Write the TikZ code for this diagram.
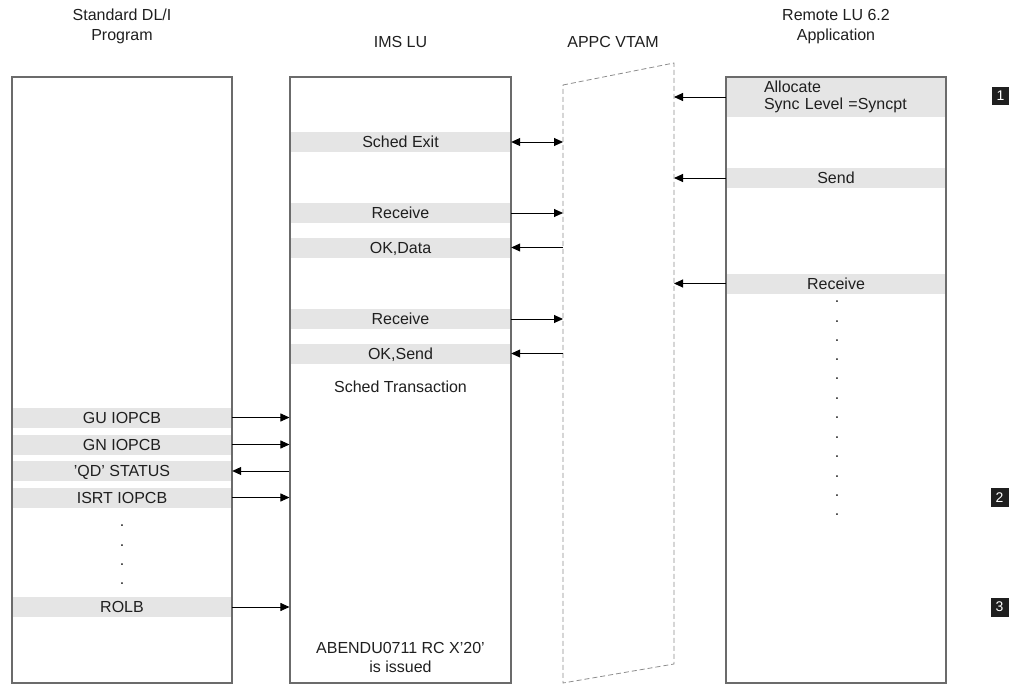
\documentclass[tikz,border=0pt]{standalone}
\usepackage{fontspec}
\setmainfont{Liberation Sans}
\usetikzlibrary{arrows.meta}
\begin{document}
\begin{tikzpicture}[x=1pt,y=-1pt,
  font=\fontsize{16}{19}\selectfont,
  text=black!88,
  box/.style={draw=black!58, line width=1.1pt, inner sep=0pt},
  band/.style={fill=black!10, inner sep=0pt, minimum height=20pt, text height=13pt, text depth=1.5pt},
  lbl/.style={inner sep=0pt, align=center},
  dotl/.style={inner sep=0pt, anchor=base, text height=2pt, text depth=0pt},
  arr/.style={line width=0.9pt, -{Triangle[length=9pt,width=8pt]}},
  darr/.style={line width=0.9pt, {Triangle[length=9pt,width=8pt]}-{Triangle[length=9pt,width=8pt]}},
  vtam/.style={draw=black!45, line width=0.8pt, dash pattern=on 5pt off 3pt},
  marker/.style={fill=black!88, text=white, minimum width=18pt, minimum height=19pt, inner sep=0pt, font=\fontsize{14}{14}\selectfont}
]
\useasboundingbox (0,0) rectangle (1021,685);

% titles
\node[lbl, font=\fontsize{16}{20}\selectfont] (t1) at (122,26.6) {Standard DL/I\\Program};
\node[lbl] (t2) at (400.5,42) {IMS LU};
\node[lbl] (t3) at (613,42) {APPC VTAM};
\node[lbl, font=\fontsize{16}{20}\selectfont] (t4) at (836,26.6) {Remote LU 6.2\\Application};

% bands, DL/I program
\node[band, minimum width=220pt] (gu) at (122,417.5) {GU IOPCB};
\node[band, minimum width=220pt] (gn) at (122,444.5) {GN IOPCB};
\node[band, minimum width=220pt] (qd) at (122,471) {'QD' STATUS};
\node[band, minimum width=220pt] (isrt) at (122,497.5) {ISRT IOPCB};
\node[band, minimum width=220pt] (rolb) at (122,607) {ROLB};
\node[dotl] (d1) at (122,526) {.};
\node[dotl] (d2) at (122,546) {.};
\node[dotl] (d3) at (122,565) {.};
\node[dotl] (d4) at (122,584) {.};

% bands, IMS LU
\node[band, minimum width=221pt] (sx) at (400.5,142) {Sched Exit};
\node[band, minimum width=221pt] (rc1) at (400.5,213) {Receive};
\node[band, minimum width=221pt] (okd) at (400.5,247.5) {OK,Data};
\node[band, minimum width=221pt] (rc2) at (400.5,319) {Receive};
\node[band, minimum width=221pt] (oks) at (400.5,353.5) {OK,Send};
\node[lbl] (st) at (400.5,386.5) {Sched Transaction};
\node[lbl] (ab) at (400.5,657) {ABENDU0711 RC X'20'\\is issued};

% bands, remote application
\node[band, minimum width=220pt, minimum height=40pt, text height=, text depth=, text width=144pt, inner xsep=38pt, align=left, font=\fontsize{16}{17}\selectfont] (al) at (836,97) {Allocate\\Sync Level =Syncpt};
\node[band, minimum width=220pt] (sd) at (836,178) {Send};
\node[band, minimum width=220pt] (rr) at (836,283.5) {Receive};
\foreach \i/\y in {1/301,2/321,3/340,4/359,5/378,6/398,7/417,8/437,9/456,10/476,11/495,12/514}{
  \node[dotl] (rd\i) at (837,\y+1) {.};
}

% boxes
\node[box, minimum width=220pt, minimum height=606pt] (dli) at (122,380) {};
\node[box, minimum width=221pt, minimum height=606pt] (ims) at (400.5,380) {};
\node[box, minimum width=220pt, minimum height=606pt] (rem) at (836,380) {};

% APPC VTAM
\coordinate (vtl) at (563,85);
\coordinate (vtr) at (674,63);
\coordinate (vbr) at (674,664);
\coordinate (vbl) at (563,683);
\draw[vtam] (vtl) -- (vtr) -- (vbr) -- (vbl) -- cycle;

% markers
\node[marker, minimum width=17pt, minimum height=18pt] (m1) at (1000.5,96) {1};
\node[marker] (m2) at (999.5,497.5) {2};
\node[marker] (m3) at (999.5,607) {3};

% arrows DL/I <-> IMS
\draw[arr] (gu.east) -- (ims.west |- gu.east);
\draw[arr] (gn.east) -- (ims.west |- gn.east);
\draw[arr] (ims.west |- qd.east) -- (qd.east);
\draw[arr] (isrt.east) -- (ims.west |- isrt.east);
\draw[arr] (rolb.east) -- (ims.west |- rolb.east);

% arrows IMS <-> VTAM
\draw[darr] (sx.east) -- (vtl |- sx.east);
\draw[arr] (rc1.east) -- (vtl |- rc1.east);
\draw[arr] (vtl |- okd.east) -- (okd.east);
\draw[arr] (rc2.east) -- (vtl |- rc2.east);
\draw[arr] (vtl |- oks.east) -- (oks.east);

% arrows remote -> VTAM
\draw[arr] (al.west) -- (vtr |- al.west);
\draw[arr] (sd.west) -- (vtr |- sd.west);
\draw[arr] (rr.west) -- (vtr |- rr.west);
\end{tikzpicture}
\end{document}
